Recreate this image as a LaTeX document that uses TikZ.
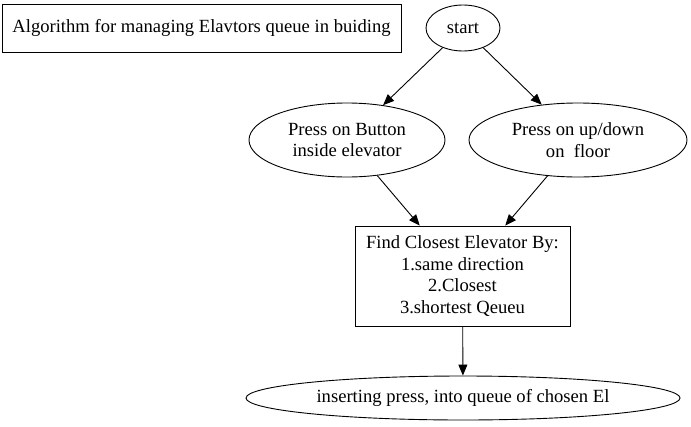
\documentclass[tikz,border=0pt]{standalone}
\usepackage{fontspec}
\setmainfont{Liberation Serif}
\usetikzlibrary{shapes.geometric,arrows.meta}

\begin{document}
\begin{tikzpicture}[x=1pt, y=-1pt, line width=0.9pt,
    font=\fontsize{18.6}{21.7}\selectfont,
    box/.style = {draw, rectangle, align=center, inner sep=0pt},
    oval/.style = {draw, ellipse, align=center, inner sep=0pt},
    edge/.style = {-{Triangle[length=11pt,width=9pt]}}]
        \useasboundingbox (0,0) rectangle (691,426);

            \node[box, minimum width=399pt, minimum height=48pt] (title) at (201.5,28) {Algorithm for managing Elavtors queue in buiding};
            \node[oval, minimum width=74pt, minimum height=46pt] (start) at (463,28) {start};
            \node[oval, minimum width=196pt, minimum height=74pt] (inside) at (347,140) {Press on Button\\inside elevator};
            \node[oval, minimum width=218pt, minimum height=74pt] (floor) at (578,140) {Press on up/down\\on\ \ floor};
            \node[box, minimum width=215pt, minimum height=100pt] (find) at (462.5,276) {Find Closest Elevator By:\\1.same direction\\2.Closest\\3.shortest Qeueu};
            \node[oval, minimum width=434pt, minimum height=44pt] (insert) at (463,398) {inserting press, into queue of chosen El};

            \draw[edge] (start) -- (inside);
            \draw[edge] (start) -- (floor);
            \draw[edge] (inside) -- (find);
            \draw[edge] (floor) -- (find);
            \draw[edge] (find) -- (insert);

\end{tikzpicture}
\end{document}
